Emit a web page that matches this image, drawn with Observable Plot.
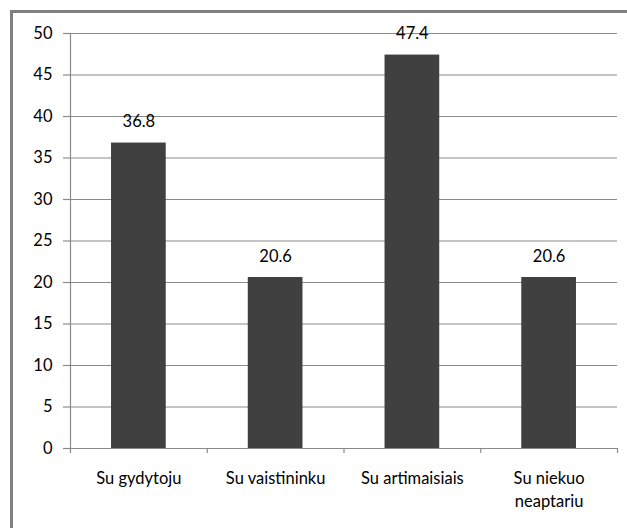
<!DOCTYPE html>
<html>
<head>
<meta charset="utf-8">
<script src="https://cdn.jsdelivr.net/npm/d3@7"></script>
<script src="https://cdn.jsdelivr.net/npm/@observablehq/plot@0.6"></script>
<style>
  html, body { margin: 0; padding: 0; background: #fff; }
  #frame { position: absolute; left: 10px; top: 10px; width: 640px; height: 540px;
           border-left: 3px solid #808080; border-top: 3px solid #808080; box-sizing: border-box; }
  #chart { position: absolute; left: 0; top: 0; }
</style>
</head>
<body>
<div id="frame"></div>
<div id="chart"></div>
<script>
const categories = ["Su gydytoju", "Su vaistininku", "Su artimaisiais", "Su niekuo\nneaptariu"];
const values = [36.8, 20.6, 47.4, 20.6];
const yTicks = [0, 5, 10, 15, 20, 25, 30, 35, 40, 45, 50];
const valueLabels = ["36.8", "20.6", "47.4", "20.6"];

const data = categories.map((c, i) => ({ cat: c, i, v: values[i], label: valueLabels[i] }));
const boundaries = d3.range(categories.length + 1);

const font = "Lato, 'Open Sans', sans-serif";
const gray = "#8a8a8a";
const fs = 16.5;

const chart = Plot.plot({
  width: 627,
  height: 528,
  marginLeft: 70,
  marginRight: 10,
  marginTop: 33,
  marginBottom: 80,
  style: { fontFamily: font, fontSize: fs + "px", color: "#000", background: "transparent" },
  x: { type: "linear", domain: [0, categories.length], axis: null },
  y: { domain: [0, 50], axis: null },
  marks: [
    Plot.ruleY(yTicks, { stroke: gray, strokeWidth: 1.2 }),
    Plot.ruleX([0], { stroke: gray, strokeWidth: 1.2 }),
    Plot.axisY({ ticks: yTicks, label: null, tickSize: 7, tickPadding: 11, stroke: gray, strokeWidth: 1.2, fontSize: fs, tickFormat: d3.format("d"), fill: "#000" }),
    Plot.axisX({ ticks: boundaries, label: null, tickSize: 5, tickFormat: () => "", stroke: gray, strokeWidth: 1.2 }),
    Plot.rectY(data, { x1: d => d.i + 0.3, x2: d => d.i + 0.7, y1: 0, y2: "v", fill: "#404040" }),
    Plot.text(data, { x: d => d.i + 0.5, y: "v", text: "label", dy: -21, fontSize: fs, fill: "#000", lineAnchor: "middle" }),
    Plot.text(data, { x: d => d.i + 0.5, y: 0, text: "cat", dy: 20, lineAnchor: "top", lineHeight: 1.36, fontSize: fs, fill: "#000" })
  ]
});
document.getElementById("chart").appendChild(chart);
</script>
</body>
</html>
